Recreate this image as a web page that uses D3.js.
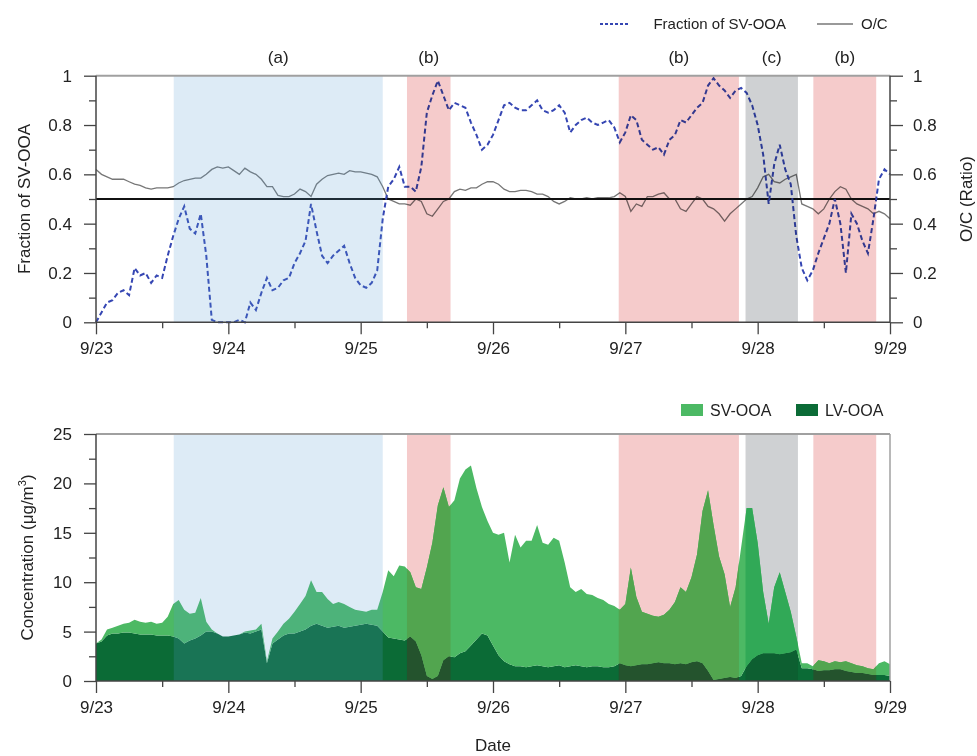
<!DOCTYPE html>
<html>
<head>
<meta charset="utf-8">
<script src="https://cdn.jsdelivr.net/npm/d3@7"></script>
<style>
  body { margin: 0; background: #fff; }
  svg text { font-family: Arial, "Liberation Sans", sans-serif; fill: #222; }
</style>
</head>
<body>
<svg id="chart" width="977" height="756"></svg>
<script>
// hours since 9/23 00:00, one value per hour (0..144)
const dayLabels = ["9/23", "9/24", "9/25", "9/26", "9/27", "9/28", "9/29"];

const fractionSV = [
  0.00, 0.04, 0.08, 0.09, 0.12, 0.13, 0.11, 0.22, 0.19, 0.20, 0.16, 0.19,
  0.18, 0.27, 0.35, 0.42, 0.47, 0.38, 0.36, 0.44, 0.27, 0.01, 0.00, 0.00,
  0.00, 0.00, 0.01, 0.00, 0.08, 0.05, 0.12, 0.18, 0.13, 0.14, 0.17, 0.18,
  0.24, 0.28, 0.33, 0.48, 0.37, 0.27, 0.24, 0.27, 0.29, 0.31, 0.24, 0.18,
  0.15, 0.14, 0.16, 0.21, 0.42, 0.55, 0.58, 0.63, 0.55, 0.55, 0.53, 0.63,
  0.85, 0.92, 0.98, 0.92, 0.86, 0.89, 0.88, 0.87, 0.81, 0.76, 0.70, 0.72,
  0.76, 0.82, 0.88, 0.89, 0.87, 0.86, 0.86, 0.88, 0.90, 0.86, 0.85, 0.86,
  0.88, 0.85, 0.77, 0.80, 0.82, 0.83, 0.81, 0.80, 0.81, 0.82, 0.79, 0.73,
  0.77, 0.84, 0.82, 0.74, 0.72, 0.70, 0.71, 0.68, 0.74, 0.76, 0.82, 0.81,
  0.84, 0.87, 0.89, 0.96, 0.99, 0.96, 0.94, 0.91, 0.94, 0.95, 0.93, 0.88,
  0.80, 0.68, 0.48, 0.64, 0.72, 0.62, 0.56, 0.35, 0.22, 0.17, 0.21, 0.28,
  0.34, 0.40, 0.50, 0.40, 0.20, 0.44, 0.40, 0.33, 0.28, 0.42, 0.58, 0.62,
  0.60
];

const ocRatio = [
  0.62, 0.60, 0.59, 0.58, 0.58, 0.58, 0.57, 0.56, 0.555, 0.545, 0.54, 0.545,
  0.545, 0.545, 0.55, 0.565, 0.575, 0.58, 0.585, 0.585, 0.60, 0.62, 0.63, 0.625,
  0.63, 0.615, 0.60, 0.625, 0.61, 0.60, 0.58, 0.55, 0.55, 0.515, 0.51, 0.51,
  0.52, 0.54, 0.53, 0.51, 0.56, 0.58, 0.595, 0.60, 0.605, 0.60, 0.615, 0.61,
  0.61, 0.605, 0.60, 0.59, 0.55, 0.50, 0.49, 0.48, 0.48, 0.475, 0.50, 0.49,
  0.44, 0.43, 0.46, 0.49, 0.50, 0.53, 0.54, 0.535, 0.545, 0.545, 0.56, 0.57,
  0.57, 0.56, 0.54, 0.53, 0.53, 0.535, 0.535, 0.53, 0.52, 0.52, 0.51, 0.49,
  0.48, 0.49, 0.505, 0.50, 0.50, 0.505, 0.50, 0.505, 0.505, 0.505, 0.51, 0.525,
  0.51, 0.45, 0.48, 0.47, 0.51, 0.51, 0.52, 0.525, 0.50, 0.50, 0.46, 0.45,
  0.48, 0.51, 0.50, 0.47, 0.46, 0.44, 0.41, 0.44, 0.46, 0.48, 0.50, 0.51,
  0.545, 0.59, 0.60, 0.57, 0.565, 0.58, 0.59, 0.60, 0.48, 0.47, 0.46, 0.44,
  0.46, 0.50, 0.53, 0.55, 0.54, 0.50, 0.48, 0.47, 0.46, 0.44, 0.45, 0.44,
  0.42
];

// concentrations, ug/m3 (SV-OOA stacked on LV-OOA)
const svOOA = [
  0.0, 0.2, 0.6, 0.6, 0.8, 0.9, 1.0, 1.4, 1.3, 1.2, 1.3, 1.2,
  1.3, 1.9, 3.3, 3.9, 3.4, 2.7, 2.6, 3.8, 1.0, 0.2, 0.0, 0.0,
  0.0, 0.0, 0.0, 0.1, 0.3, 0.2, 0.6, 0.2, 0.5, 0.8, 1.2, 1.5,
  2.2, 2.8, 3.4, 4.6, 3.2, 3.4, 2.9, 2.3, 2.4, 2.4, 2.0, 1.6,
  1.4, 1.2, 1.5, 1.6, 4.0, 6.8, 6.3, 7.5, 7.5, 6.5, 5.5, 6.7,
  11.0, 13.8, 17.3, 17.5, 15.1, 15.9, 17.7, 18.4, 18.2, 15.3, 12.8, 11.6,
  11.4, 12.2, 13.0, 10.3, 13.3, 12.0, 12.8, 12.7, 14.2, 12.5, 12.4, 13.0,
  12.6, 10.6, 8.0, 7.4, 7.8, 7.4, 7.2, 6.9, 6.8, 6.4, 6.1, 5.4,
  6.2, 10.0, 6.9, 5.3, 5.1, 4.8, 4.6, 4.9, 5.4, 6.3, 7.7, 7.3,
  8.6, 10.8, 15.4, 18.3, 15.7, 12.4, 10.5, 7.1, 9.2, 13.0, 16.0, 15.3,
  11.4, 6.2, 3.0, 6.7, 8.3, 6.2, 4.1, 1.3, 0.5, 0.5, 0.3, 1.1,
  0.9, 0.7, 0.8, 0.7, 1.0, 0.9, 0.8, 0.7, 0.6, 0.6, 1.2, 1.4,
  1.2
];

const lvOOA = [
  3.8, 4.0, 4.6, 4.8, 4.8, 4.9, 4.9, 4.8, 4.7, 4.7, 4.7, 4.6,
  4.6, 4.6, 4.5, 4.3, 3.8, 4.1, 4.3, 4.6, 5.0, 5.0, 4.8, 4.5,
  4.5, 4.6, 4.7, 4.9, 4.8, 5.0, 5.2, 1.8, 3.8, 4.2, 4.6, 4.8,
  4.8, 5.0, 5.2, 5.6, 5.8, 5.6, 5.4, 5.5, 5.6, 5.4, 5.5, 5.6,
  5.7, 5.8, 5.7, 5.6, 5.0, 4.4, 4.3, 4.2, 4.1, 4.5, 4.0, 2.6,
  0.5, 0.2, 0.5, 2.1, 2.5, 2.4, 2.8, 3.0, 3.6, 4.2, 4.8, 4.6,
  3.6, 2.6, 2.0, 1.7, 1.5, 1.5, 1.4, 1.5, 1.6, 1.5, 1.4, 1.5,
  1.6, 1.4, 1.5, 1.6, 1.5, 1.4, 1.5, 1.5, 1.4, 1.4, 1.5, 1.8,
  1.6, 1.5, 1.6, 1.7, 1.7, 1.8, 1.9, 1.8, 1.8, 1.7, 1.8, 1.7,
  1.9, 2.0, 1.8, 1.0, 0.1, 0.2, 0.3, 0.4, 0.3, 0.5, 1.5, 2.2,
  2.6, 2.8, 2.8, 2.8, 2.7, 2.8, 2.9, 3.2, 1.3, 1.3, 1.2, 1.0,
  1.1, 1.1, 1.2, 1.2, 1.0, 0.9, 0.8, 0.8, 0.7, 0.6, 0.6, 0.6,
  0.5
];

// shaded periods (hours) and their labels
const bandStart = [14.1, 56.4, 94.8, 117.8, 130.1];
const bandEnd   = [52.0, 64.3, 116.6, 127.3, 141.5];
const bandKind  = ["a", "b", "b", "c", "b"];
const refLevel = 0.5;

const svg = d3.select("#chart");

const x = d3.scaleLinear().domain([0, 144]).range([96, 890]);
const yTop = d3.scaleLinear().domain([0, 1]).range([322.3, 75.7]);
const yBot = d3.scaleLinear().domain([0, 25]).range([681, 434]);

const hours = d3.range(fractionSV.length);

// band colour on white, and the green shades seen through each band
const bandFill = { a: "#dde9f5", b: "#f5cbcb", c: "#cfd1d3" };
const greenColors = { sv: "#4cb964", lv: "#0b6b36" };
const greenInBand = {
  b: { sv: "#52a54f", lv: "#24532d" },
  c: { sv: "#31a957", lv: "#0d5f31" }
};

function bandRect(g, y, i) {
  return g.append("rect")
    .attr("x", x(bandStart[i]))
    .attr("y", y.range()[1])
    .attr("width", x(bandEnd[i]) - x(bandStart[i]))
    .attr("height", y.range()[0] - y.range()[1]);
}

function overlayStyle(sel, kind) {
  if (kind === "a") {
    sel.attr("fill", "rgb(85,155,210)").attr("fill-opacity", 0.2);
  } else {
    sel.attr("fill", bandFill[kind]).style("mix-blend-mode", "multiply");
  }
}

function styleAxis(g, size) {
  g.selectAll("path.domain").remove();
  g.selectAll("line").attr("stroke", "#444").attr("stroke-width", 1.3);
  g.selectAll("text").style("font-size", size + "px").attr("fill", "#222");
}

function xAxes(g, y0) {
  g.append("g").attr("transform", `translate(0,${y0})`)
    .call(d3.axisBottom(x).tickValues(d3.range(0, 145, 24))
      .tickFormat((d, i) => dayLabels[i]).tickSize(12).tickPadding(8))
    .call(styleAxis, 17);
  g.append("g").attr("transform", `translate(0,${y0})`)
    .call(d3.axisBottom(x).tickValues(d3.range(12, 145, 24))
      .tickFormat("").tickSize(6))
    .call(styleAxis, 17);
  g.append("line")
    .attr("x1", x(0)).attr("x2", x(144)).attr("y1", y0).attr("y2", y0)
    .attr("stroke", "#444").attr("stroke-width", 1.5);
}

// ---------- top panel ----------
const topG = svg.append("g");

const ocLine = d3.line().x(d => x(d)).y(d => yTop(ocRatio[d]));
const fracLine = d3.line().x(d => x(d)).y(d => yTop(fractionSV[d]));

topG.append("path")
  .attr("d", ocLine(hours))
  .attr("fill", "none")
  .attr("stroke", "#777")
  .attr("stroke-width", 1.3);

topG.append("line")
  .attr("x1", x(0)).attr("x2", x(144))
  .attr("y1", yTop(refLevel)).attr("y2", yTop(refLevel))
  .attr("stroke", "#111").attr("stroke-width", 2.2);

topG.append("path")
  .attr("d", fracLine(hours))
  .attr("fill", "none")
  .attr("stroke", "#3546b3")
  .attr("stroke-width", 2)
  .attr("stroke-dasharray", "5,3");

bandStart.forEach((s, i) => bandRect(topG, yTop, i).call(overlayStyle, bandKind[i]));

// frame
topG.append("line")
  .attr("x1", x(0)).attr("x2", x(144)).attr("y1", yTop(1)).attr("y2", yTop(1))
  .attr("stroke", "#a0a0a0").attr("stroke-width", 2);

const fmtFrac = d => (d === 0 || d === 1) ? String(d) : d.toFixed(1);

topG.append("g").attr("transform", `translate(${x(0)},0)`)
  .call(d3.axisLeft(yTop).tickValues([0, 0.2, 0.4, 0.6, 0.8, 1])
    .tickFormat(fmtFrac).tickSize(12).tickPadding(12))
  .call(styleAxis, 17);
topG.append("g").attr("transform", `translate(${x(0)},0)`)
  .call(d3.axisLeft(yTop).tickValues([0.1, 0.3, 0.5, 0.7, 0.9])
    .tickFormat("").tickSize(7))
  .call(styleAxis, 17);
topG.append("g").attr("transform", `translate(${x(144)},0)`)
  .call(d3.axisRight(yTop).tickValues([0, 0.2, 0.4, 0.6, 0.8, 1])
    .tickFormat(fmtFrac).tickSize(13).tickPadding(10))
  .call(styleAxis, 17);
topG.append("g").attr("transform", `translate(${x(144)},0)`)
  .call(d3.axisRight(yTop).tickValues([0.1, 0.3, 0.5, 0.7, 0.9])
    .tickFormat("").tickSize(7))
  .call(styleAxis, 17);
[x(0), x(144)].forEach(px => {
  topG.append("line")
    .attr("x1", px).attr("x2", px).attr("y1", yTop(0)).attr("y2", yTop(1))
    .attr("stroke", "#444").attr("stroke-width", 1.5);
});
xAxes(topG, yTop(0));

// band labels
bandStart.forEach((s, i) => {
  topG.append("text")
    .attr("x", x((s + bandEnd[i]) / 2))
    .attr("y", 63)
    .attr("text-anchor", "middle")
    .style("font-size", "17px")
    .text("(" + bandKind[i] + ")");
});

topG.append("text")
  .attr("transform", `translate(24,${(yTop(0) + yTop(1)) / 2}) rotate(-90)`)
  .attr("text-anchor", "middle")
  .attr("dy", "0.35em")
  .style("font-size", "17px")
  .text("Fraction of SV-OOA");

topG.append("text")
  .attr("transform", `translate(966,${(yTop(0) + yTop(1)) / 2}) rotate(-90)`)
  .attr("text-anchor", "middle")
  .attr("dy", "0.35em")
  .style("font-size", "17px")
  .text("O/C (Ratio)");

// legend (top)
const legTop = svg.append("g");
legTop.append("line")
  .attr("x1", 600).attr("x2", 628).attr("y1", 24).attr("y2", 24)
  .attr("stroke", "#3546b3").attr("stroke-width", 2).attr("stroke-dasharray", "3,2");
legTop.append("text")
  .attr("x", 786).attr("y", 29).attr("text-anchor", "end")
  .style("font-size", "15px").text("Fraction of SV-OOA");
legTop.append("line")
  .attr("x1", 817).attr("x2", 853).attr("y1", 24).attr("y2", 24)
  .attr("stroke", "#777").attr("stroke-width", 1.5);
legTop.append("text")
  .attr("x", 861).attr("y", 29)
  .style("font-size", "15px").text("O/C");

// ---------- bottom panel ----------
const botG = svg.append("g");
const defs = svg.append("defs");

const table = hours.map(h => ({ h: h, lv: lvOOA[h], sv: svOOA[h] }));
const stacked = d3.stack().keys(["lv", "sv"])(table);
const areaGen = d3.area()
  .x(d => x(d.data.h))
  .y0(d => yBot(d[0]))
  .y1(d => yBot(d[1]));

// red / grey bands sit behind the areas
bandStart.forEach((s, i) => {
  if (bandKind[i] !== "a") bandRect(botG, yBot, i).attr("fill", bandFill[bandKind[i]]);
});

botG.selectAll("path.layer")
  .data(stacked)
  .join("path")
  .attr("class", "layer")
  .attr("d", areaGen)
  .attr("fill", d => greenColors[d.key]);

// redraw the areas inside each red / grey band with the tinted greens
bandStart.forEach((s, i) => {
  const kind = bandKind[i];
  if (kind === "a") return;
  const id = "bandClip" + i;
  defs.append("clipPath").attr("id", id)
    .append("rect")
    .attr("x", x(s)).attr("y", yBot(25))
    .attr("width", x(bandEnd[i]) - x(s)).attr("height", yBot(0) - yBot(25));
  botG.append("g").attr("clip-path", `url(#${id})`)
    .selectAll("path")
    .data(stacked)
    .join("path")
    .attr("d", areaGen)
    .attr("fill", d => greenInBand[kind][d.key]);
});

// blue band is a light wash over everything
bandStart.forEach((s, i) => {
  if (bandKind[i] === "a") bandRect(botG, yBot, i).call(overlayStyle, "a");
});

botG.append("line")
  .attr("x1", x(0)).attr("x2", x(144)).attr("y1", yBot(25)).attr("y2", yBot(25))
  .attr("stroke", "#a0a0a0").attr("stroke-width", 2);
botG.append("line")
  .attr("x1", x(144)).attr("x2", x(144)).attr("y1", yBot(0)).attr("y2", yBot(25))
  .attr("stroke", "#a0a0a0").attr("stroke-width", 1.5);

botG.append("g").attr("transform", `translate(${x(0)},0)`)
  .call(d3.axisLeft(yBot).tickValues([0, 5, 10, 15, 20, 25])
    .tickSize(12).tickPadding(12))
  .call(styleAxis, 17);
botG.append("g").attr("transform", `translate(${x(0)},0)`)
  .call(d3.axisLeft(yBot).tickValues([2.5, 7.5, 12.5, 17.5, 22.5])
    .tickFormat("").tickSize(7))
  .call(styleAxis, 17);
botG.append("line")
  .attr("x1", x(0)).attr("x2", x(0)).attr("y1", yBot(0)).attr("y2", yBot(25))
  .attr("stroke", "#444").attr("stroke-width", 1.5);
xAxes(botG, yBot(0));

botG.append("text")
  .attr("transform", `translate(27,${(yBot(0) + yBot(25)) / 2}) rotate(-90)`)
  .attr("text-anchor", "middle")
  .attr("dy", "0.35em")
  .style("font-size", "17px")
  .html('Concentration (μg/m<tspan dy="-7" style="font-size:11px">3</tspan><tspan dy="7">)</tspan>');

botG.append("text")
  .attr("x", (x(0) + x(144)) / 2)
  .attr("y", 751)
  .attr("text-anchor", "middle")
  .style("font-size", "17px")
  .text("Date");

// legend (bottom)
const legItems = [
  { key: "sv", label: "SV-OOA", x: 681 },
  { key: "lv", label: "LV-OOA", x: 796 }
];
legItems.forEach(it => {
  botG.append("rect")
    .attr("x", it.x).attr("y", 404).attr("width", 22).attr("height", 12)
    .attr("fill", greenColors[it.key]);
  botG.append("text")
    .attr("x", it.x + 29).attr("y", 416)
    .style("font-size", "16px").text(it.label);
});
</script>
</body>
</html>
